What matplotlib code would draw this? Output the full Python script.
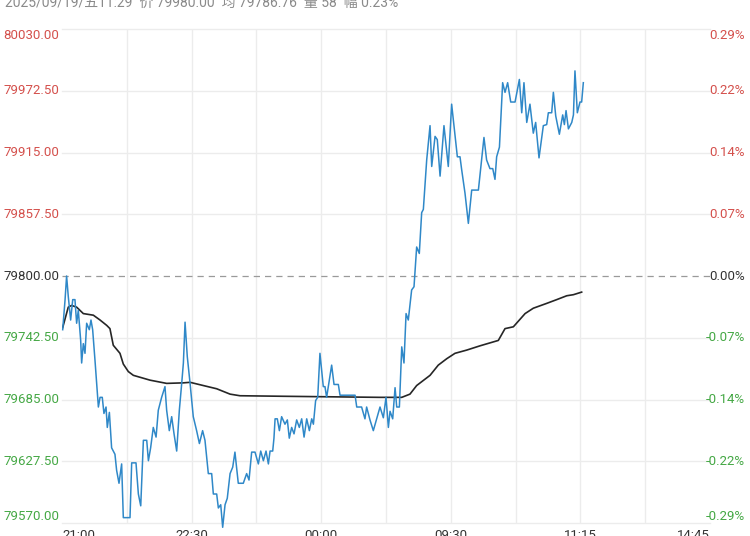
import matplotlib.pyplot as plt
import matplotlib.transforms as mtransforms

plt.rcParams['font.family'] = ['Roboto', 'Noto Sans CJK SC', 'DejaVu Sans']

# minutes since 21:00 (trading minutes, 465 in the whole session)
price_min = [0.5, 2.2, 3.3, 4.5, 6.2, 7.7, 9.3, 10.5, 11.7, 13.4, 14.1, 15.3, 16.5, 17.7,
             19.6, 20.8, 22.0, 23.7, 26.1, 27.3, 28.9, 30.1, 31.6, 32.5, 34.0, 35.6, 38.0,
             39.2, 40.9, 42.8, 44.0, 48.8, 50.0, 53.1, 54.8, 56.5, 58.4, 60.8, 62.0, 63.6,
             65.5, 67.5, 69.1, 71.5, 73.9, 75.1, 77.0, 78.7, 80.4, 82.3, 84.2, 85.9, 87.1,
             88.3, 89.9, 91.9, 94.2, 96.6, 98.6, 100.9, 102.6, 105.0, 107.4, 108.6, 111.0,
             112.2, 113.9, 115.3, 117.0, 118.6, 120.6, 122.5, 124.1, 126.5, 130.1, 132.5,
             134.2, 136.1, 138.5, 140.9, 142.6, 144.5, 146.4, 148.1, 149.3, 151.2, 152.1,
             152.9, 154.5, 156.0, 157.6, 160.0, 161.7, 163.1, 164.8, 166.5, 168.4, 170.3,
             172.0, 173.7, 175.6, 177.5, 179.2, 180.4, 182.0, 183.5, 185.1, 186.3, 187.5,
             188.7, 189.9, 191.1, 193.5, 195.2, 198.3, 199.5, 210.3, 211.5, 215.0, 217.4,
             218.6, 221.0, 223.4, 225.8,
             228.2, 230.6, 232.5, 234.2, 235.4, 237.3, 239.0, 240.2, 242.1, 243.8, 245.4,
             246.9, 248.5, 250.9, 252.6, 254.5, 256.4, 258.1, 259.3, 261.7, 264.1, 265.3,
             267.7, 269.3, 271.3, 274.1, 277.2, 279.6, 281.3, 283.7, 285.6, 286.8, 289.2,
             291.6, 294.0, 298.8, 302.8, 304.7, 307.1, 309.1, 310.7, 311.9, 313.9, 316.2,
             317.9, 319.8, 322.0, 325.1, 328.2, 329.9, 331.5, 333.5, 335.8, 338.2, 339.9,
             342.3, 345.4, 347.8, 349.0, 351.4, 352.6, 354.3, 356.9, 359.3, 360.5, 361.7,
             363.4, 365.8, 367.0, 368.1, 369.8, 371.7, 372.9, 374.1]
price = [79750, 79778, 79800, 79781, 79759, 79778, 79778, 79756, 79768, 79740, 79719, 79737,
         79728, 79756, 79750, 79759, 79750, 79721, 79678, 79687, 79687, 79672, 79678, 79659,
         79673, 79640, 79634, 79619, 79607, 79625, 79575, 79575, 79626, 79626, 79597, 79586,
         79647, 79647, 79628, 79640, 79659, 79650, 79675, 79687, 79697, 79675, 79656, 79669,
         79653, 79637, 79675, 79700, 79719, 79757, 79725, 79700, 79669, 79656, 79644, 79656,
         79647, 79616, 79616, 79597, 79597, 79584, 79587, 79566, 79587, 79593, 79616, 79622,
         79636, 79607, 79607, 79616, 79610, 79636, 79636, 79625, 79637, 79628, 79637, 79625,
         79637, 79637, 79649, 79667, 79667, 79656, 79669, 79662, 79666, 79649, 79659, 79653,
         79666, 79659, 79667, 79650, 79667, 79656, 79667, 79662, 79684, 79687, 79728, 79712,
         79697, 79697, 79687, 79697, 79717, 79699, 79699, 79689, 79689, 79678, 79678, 79667,
         79678, 79666, 79656, 79667,
         79678, 79668, 79687, 79659, 79674, 79667, 79696, 79678, 79678, 79734, 79719,
         79765, 79759, 79787, 79790, 79827, 79821, 79859, 79862, 79908, 79940, 79902,
         79930, 79927, 79893, 79940, 79902, 79960, 79940, 79911, 79911, 79899, 79877,
         79849, 79880, 79880, 79929, 79908, 79900, 79900, 79890, 79911, 79920, 79980,
         79971, 79980, 79962, 79962, 79983, 79952, 79980, 79943, 79960, 79933, 79943,
         79910, 79940, 79941, 79952, 79952, 79971, 79949, 79932, 79950, 79941, 79954,
         79937, 79943, 79950, 79991, 79952, 79962, 79962, 79980]

avg_min = [0.5, 4.5, 6.9, 10.5, 12.9, 15.3, 22.5, 27.3, 32.1, 34.4, 36.8, 41.6, 44.0, 47.6,
           51.2, 63.2, 75.1, 87.1, 91.9, 101.4, 111.0, 120.6, 127.7, 158.8, 228.2, 243.8,
           249.7, 254.5, 264.1, 270.0, 276.1, 282.0, 290.4, 300.0, 313.1, 317.9, 323.9,
           332.3, 338.2, 347.8, 355.0, 362.2, 367.0, 372.9]
avg_price = [79752, 79771, 79772.6, 79771, 79768, 79765, 79763.5, 79759, 79754, 79751,
             79735.5, 79728, 79718, 79711, 79707.5, 79703, 79700, 79700.5, 79701, 79698,
             79695, 79690, 79688.5, 79688, 79687, 79687, 79690, 79698, 79707.5, 79717,
             79723, 79728, 79731, 79735, 79740, 79751, 79752.7, 79765, 79770, 79774.5,
             79778, 79781.6, 79782.6, 79785]

prev_close = 79800
y_ticks = [80030.00, 79972.50, 79915.00, 79857.50, 79800.00, 79742.50, 79685.00, 79627.50, 79570.00]
pct_labels = ['0.29%', '0.22%', '0.14%', '0.07%', '0.00%', '-0.07%', '-0.14%', '-0.22%', '-0.29%']
time_labels = ['21:00', '22:30', '00:00', '09:30', '11:15', '14:45']
total_min = 465

red = '#d4504c'
green = '#45a845'
dark = '#333333'

fig = plt.figure(figsize=(7.5, 5.36), dpi=100)
ax = fig.add_axes([62 / 750, 13 / 536, 648 / 750, 494 / 536])
ax.set_xlim(0, total_min)
ax.set_ylim(79570, 80030)
for s in ax.spines.values():
    s.set_visible(False)
ax.set_xticks([])
ax.set_yticks([])

# grid
for v in y_ticks:
    if v != prev_close:
        ax.axhline(v, color='#ececec', lw=1, zorder=0, clip_on=False)
for k in range(1, 10):
    ax.axvline(total_min * k / 10, color='#ececec', lw=1, zorder=0)
ax.axhline(prev_close, color='#9a9a9a', lw=0.9, ls=(0, (5, 4)), zorder=1)

ax.plot(price_min, price, color='#2f88c8', lw=1.1, zorder=3, clip_on=False)
ax.plot(avg_min, avg_price, color='#262626', lw=1.2, zorder=2)

# y labels on both sides
tr = mtransforms.blended_transform_factory(fig.transFigure, ax.transData)
for i, v in enumerate(y_ticks):
    c = red if v > prev_close else (green if v < prev_close else dark)
    va = 'top' if i == 0 else ('bottom' if i == len(y_ticks) - 1 else 'center')
    ax.text(3 / 750, v, '%.2f' % v, transform=tr, ha='left', va=va, color=c, fontsize=9.5)
    ax.text(745 / 750, v, pct_labels[i], transform=tr, ha='right', va=va, color=c, fontsize=9.5)

# time labels
trx = mtransforms.blended_transform_factory(ax.transData, fig.transFigure)
n = len(time_labels)
for i, t in enumerate(time_labels):
    ha = 'left' if i == 0 else ('right' if i == n - 1 else 'center')
    ax.text(total_min * i / (n - 1), 1 - 529 / 536, t, transform=trx, ha=ha, va='top',
            color=dark, fontsize=9.5)

fig.text(5 / 750, 1 - 7 / 536, '2025/09/19/五11:29  价 79980.00  均 79786.76  量 58  幅 0.23%',
         ha='left', va='baseline', color='#8a8a8a', fontsize=10)

fig.savefig('out.png', dpi=100)
